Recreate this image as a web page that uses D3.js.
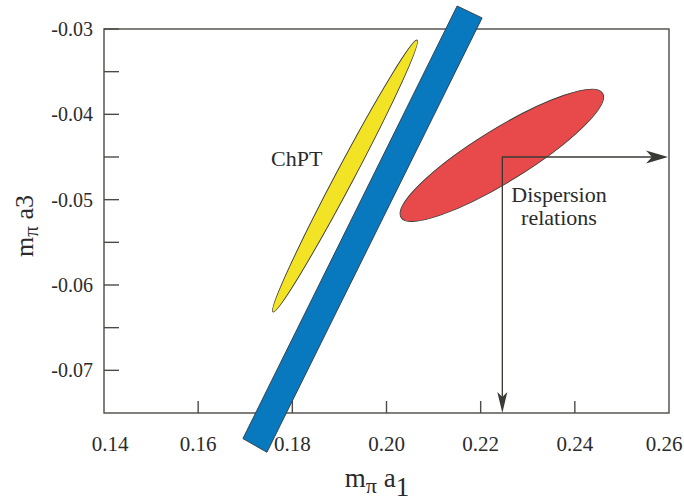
<!DOCTYPE html>
<html>
<head>
<meta charset="utf-8">
<script src="https://cdn.jsdelivr.net/npm/d3@7"></script>
<style>
  html, body { margin: 0; padding: 0; background: #fff; }
  svg { display: block; }
  text { font-family: "Palatino Linotype", "Book Antiqua", Palatino, "Liberation Serif", serif; fill: #2b2b2b; }
</style>
</head>
<body>
<svg id="chart" width="684" height="504"></svg>
<script>
"use strict";

// axis data
let xDomain = [0.14, 0.26];
let yDomain = [-0.075, -0.03];
let xTicks = [0.14, 0.16, 0.18, 0.20, 0.22, 0.24, 0.26];
let xTickLabels = ["0.14", "0.16", "0.18", "0.20", "0.22", "0.24", "0.26"];
let yTicks = [-0.03, -0.04, -0.05, -0.06, -0.07];
let yTickLabels = ["-0.03", "-0.04", "-0.05", "-0.06", "-0.07"];
let yMinorTicks = [-0.035, -0.045, -0.055, -0.065];

// blue band (corners, in data units)
let bandX = [0.2150, 0.2203, 0.1746, 0.1695];
let bandY = [-0.0273, -0.0287, -0.0796, -0.0780];

// ChPT ellipse: center, end of long axis, end of short axis
let chptCenter = [0.19119, -0.04723];
let chptMajor = [0.2065, -0.0313];
let chptMinor = [0.19289, -0.04772];

// dispersion relations ellipse
let dispCenter = [0.2245, -0.0448];
let dispMajor = [0.2459, -0.03752];
let dispMinor = [0.2273, -0.04747];

// arrows start here
let arrowOrigin = [0.2246, -0.045];

let svg = d3.select("#chart");
let margin = {left: 104, top: 29, right: 15, bottom: 91};
let width = 684 - margin.left - margin.right;
let height = 504 - margin.top - margin.bottom;

let x = d3.scaleLinear().domain(xDomain).range([margin.left, margin.left + width]);
let y = d3.scaleLinear().domain(yDomain).range([margin.top + height, margin.top]);

let axisColor = "#4d4a45";

/* Frame + ticks */
svg.append("rect")
  .attr("x", x(xDomain[0])).attr("y", y(yDomain[1]))
  .attr("width", x(xDomain[1]) - x(xDomain[0]))
  .attr("height", y(yDomain[0]) - y(yDomain[1]))
  .attr("fill", "none").attr("stroke", axisColor).attr("stroke-width", 1.4);

svg.selectAll(".ytick")
  .data(yTicks.concat(yMinorTicks))
  .enter().append("line")
  .attr("x1", x(xDomain[0])).attr("x2", x(xDomain[0]) + 15)
  .attr("y1", d => y(d)).attr("y2", d => y(d))
  .attr("stroke", axisColor).attr("stroke-width", 1.4);

svg.selectAll(".xtick")
  .data(xTicks.slice(1, -1))
  .enter().append("line")
  .attr("x1", d => x(d)).attr("x2", d => x(d))
  .attr("y1", y(yDomain[0])).attr("y2", y(yDomain[0]) - 12)
  .attr("stroke", axisColor).attr("stroke-width", 1.4);

svg.selectAll(".ylabel")
  .data(yTicks)
  .enter().append("text")
  .attr("x", x(xDomain[0]) - 11)
  .attr("y", d => y(d) + 7)
  .attr("text-anchor", "end")
  .style("font-size", "20px")
  .text((d, i) => yTickLabels[i]);

// keep the outer labels inside the picture
svg.selectAll(".xlabel")
  .data(xTicks)
  .enter().append("text")
  .attr("x", d => Math.max(110, Math.min(664, x(d))))
  .attr("y", y(yDomain[0]) + 38)
  .attr("text-anchor", "middle")
  .style("font-size", "21px")
  .text((d, i) => xTickLabels[i]);

/* Regions */
function drawEllipse(center, major, minor, fill) {
  let cx = x(center[0]), cy = y(center[1]);
  let ux = x(major[0]) - cx, uy = y(major[1]) - cy;
  let vx = x(minor[0]) - cx, vy = y(minor[1]) - cy;
  let angle = Math.atan2(uy, ux) * 180 / Math.PI;
  svg.append("ellipse")
    .attr("cx", cx).attr("cy", cy)
    .attr("rx", Math.hypot(ux, uy))
    .attr("ry", Math.hypot(vx, vy))
    .attr("transform", `rotate(${angle} ${cx} ${cy})`)
    .attr("fill", fill)
    .attr("stroke", "#3d3a36").attr("stroke-width", 0.9);
}

drawEllipse(chptCenter, chptMajor, chptMinor, "#f2e424");

svg.append("path")
  .datum(bandX.map((d, i) => [d, bandY[i]]))
  .attr("d", d3.line().x(d => x(d[0])).y(d => y(d[1])).curve(d3.curveLinearClosed))
  .attr("fill", "#0878bf")
  .attr("stroke", "#2f3a40").attr("stroke-width", 0.9);

drawEllipse(dispCenter, dispMajor, dispMinor, "#e8494a");

/* Arrows */
let ox = x(arrowOrigin[0]), oy = y(arrowOrigin[1]);
let rightTip = x(xDomain[1]) - 1;
let bottomTip = y(yDomain[0]);
let arrowColor = "#3a3a35";

svg.append("path")
  .attr("d", `M${ox},${bottomTip - 8}V${oy}H${rightTip - 8}`)
  .attr("fill", "none").attr("stroke", arrowColor).attr("stroke-width", 1.3);

// horizontal head
svg.append("path")
  .attr("d", `M${rightTip},${oy}L${rightTip - 22},${oy - 6.5}L${rightTip - 16},${oy}L${rightTip - 22},${oy + 6.5}Z`)
  .attr("fill", arrowColor);
// vertical head
svg.append("path")
  .attr("d", `M${ox},${bottomTip}L${ox - 5},${bottomTip - 21}L${ox},${bottomTip - 16}L${ox + 5},${bottomTip - 21}Z`)
  .attr("fill", arrowColor);

/* Annotations */
svg.append("text")
  .attr("x", 271).attr("y", 166)
  .style("font-size", "22px")
  .text("ChPT");

svg.append("text")
  .attr("x", 559).attr("y", 202)
  .attr("text-anchor", "middle")
  .style("font-size", "22px")
  .text("Dispersion");

svg.append("text")
  .attr("x", 559).attr("y", 225)
  .attr("text-anchor", "middle")
  .style("font-size", "22px")
  .text("relations");

/* Axis titles */
let xTitle = svg.append("text")
  .attr("x", 377).attr("y", 487)
  .attr("text-anchor", "middle")
  .style("font-size", "27px");
xTitle.append("tspan").text("m");
xTitle.append("tspan").attr("dy", 6).style("font-size", "22px").text("π");
xTitle.append("tspan").attr("dy", -6).text(" a");
xTitle.append("tspan").attr("dy", 9).text("1");

let yTitle = svg.append("text")
  .attr("transform", "translate(33,226) rotate(-90)")
  .attr("text-anchor", "middle")
  .style("font-size", "26px");
yTitle.append("tspan").text("m");
yTitle.append("tspan").attr("dy", 5).style("font-size", "21px").text("π");
yTitle.append("tspan").attr("dy", -5).text(" a3");
</script>
</body>
</html>
